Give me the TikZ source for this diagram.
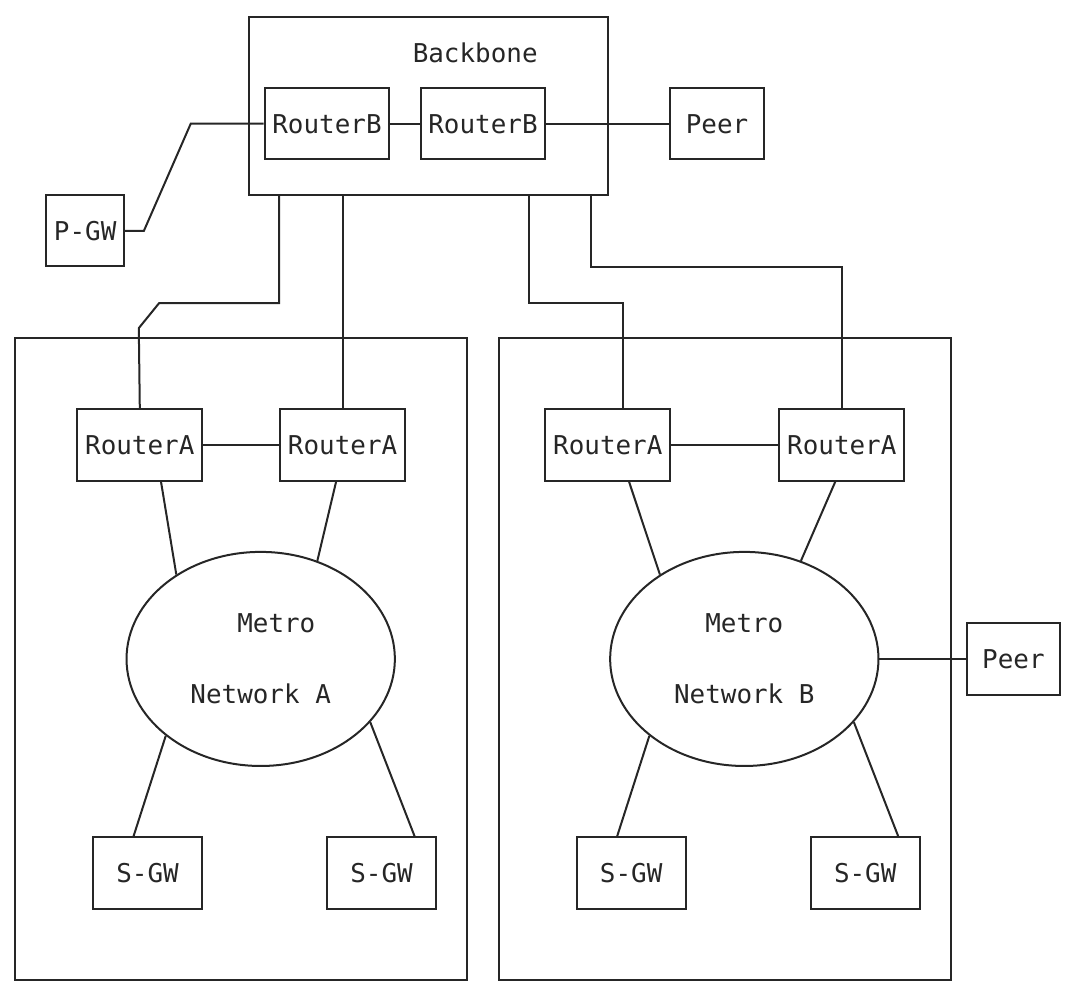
\documentclass[tikz,border=0pt]{standalone}
\usepackage{fontspec}
\setmonofont{DejaVu Sans Mono}
\usetikzlibrary{calc,shapes.geometric}
\definecolor{ink}{HTML}{262626}
\newcommand{\colw}{7.8pt}
\newcommand{\rowh}{17.84pt}

\begin{document}
\begin{tikzpicture}[
    x=\colw, y=-\rowh,
    font=\ttfamily\fontsize{12.96pt}{15pt}\selectfont,
    box/.style={draw=ink, line width=1pt, inner sep=0pt, text=ink,
                minimum width=#1*\colw, minimum height=2*\rowh},
    zone/.style 2 args={draw=ink, line width=1pt, inner sep=0pt,
                minimum width=#1*\colw, minimum height=#2*\rowh},
    metro/.style={ellipse, draw=ink, line width=1pt, inner sep=0pt, text=ink,
                align=center, minimum width=17.2*\colw, minimum height=6*\rowh,
                font=\ttfamily\fontsize{12.96pt}{35.68pt}\selectfont},
    link/.style={draw=ink, line width=1pt},
  ]
  \useasboundingbox (-0.9615,-0.468) rectangle (67.628,27.223);
  % backbone
  \node[zone={23}{5}] (backbone) at (26.5,2.5) {};
  \node[text=ink]     (bbtitle)  at (29.5,1)   {Backbone};
  \node[box=8] (rb1)   at (20,3) {RouterB};
  \node[box=8] (rb2)   at (30,3) {RouterB};
  \node[box=6] (peert) at (45,3) {Peer};
  \node[box=5] (pgw)   at (4.5,6) {P-GW};
  % metro areas
  \node[zone={29}{18}] (areaA) at (14.5,18) {};
  \node[zone={29}{18}] (areaB) at (45.5,18) {};
  \node[box=8] (raA1) at (8,12)  {RouterA};
  \node[box=8] (raA2) at (21,12) {RouterA};
  \node[box=8] (raB1) at (38,12) {RouterA};
  \node[box=8] (raB2) at (53,12) {RouterA};
  \node[metro] (metA) at (15.75,18) {\hphantom{xx}Metro\\Network A};
  \node[metro] (metB) at (46.75,18) {Metro\\Network B};
  \node[box=7] (sgwA1) at (8.5,24)  {S-GW};
  \node[box=7] (sgwA2) at (23.5,24) {S-GW};
  \node[box=7] (sgwB1) at (39.5,24) {S-GW};
  \node[box=7] (sgwB2) at (54.5,24) {S-GW};
  \node[box=6] (peerm) at (64,18) {Peer};
  % backbone links
  \draw[link] (rb1) -- (rb2);
  \draw[link] (rb2) -- (peert);
  \draw[link] (pgw.east) -- ++(1.2,0) -- ++(3,-3) -- (rb1.west);
  \draw[link] ($(backbone.south west)+(2,0)$) -- ++(0,3) -- ++(-7.7,0)
              -- ++(-1.3,0.7) -- (raA1.north);
  \draw[link] (raA2.north |- backbone.south) -- (raA2.north);
  \draw[link] ($(backbone.south west)+(18,0)$) -- ++(0,3) -| ($(raB1.north)+(1,0)$);
  \draw[link] ($(backbone.south west)+(22,0)$) -- ++(0,2) -| (raB2.north);
  % metro links
  \draw[link] (raA1) -- (raA2);
  \draw[link] (raB1) -- (raB2);
  \draw[link] (raA1.-60)  -- (metA.135);
  \draw[link] (raA2.-100) -- (metA.60);
  \draw[link] (raB1.-60)  -- (metB.135);
  \draw[link] (raB2.-100) -- (metB.60);
  \draw[link] (metA.219) -- (sgwA1.111);
  \draw[link] (metA.-30) -- (sgwA2.48);
  \draw[link] (metB.219) -- (sgwB1.111);
  \draw[link] (metB.-30) -- (sgwB2.48);
  \draw[link] (metB) -- (peerm);
\end{tikzpicture}
\end{document}
